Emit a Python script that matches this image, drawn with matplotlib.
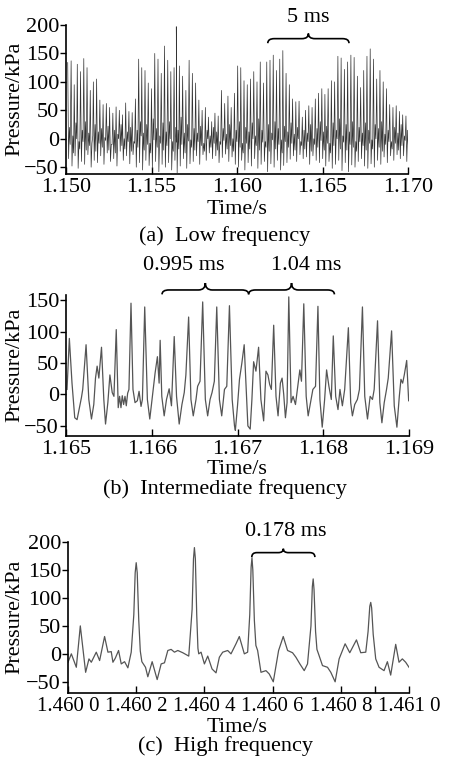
import numpy as np
import matplotlib
matplotlib.use("Agg")
import matplotlib.pyplot as plt
from matplotlib.path import Path
from matplotlib.patches import PathPatch

plt.rcParams['font.family'] = ['Liberation Serif', 'DejaVu Serif']
plt.rcParams['axes.unicode_minus'] = True

# ---------------- data: panel (a) low frequency (times in ms after 1.150 s) ----------------
a_start = 1.150
a_spike_ms = [0.10, 0.30, 0.48, 0.66, 0.85, 1.04, 1.23, 1.42, 1.60, 1.79,
              1.98, 2.17, 2.36, 2.55, 2.74, 2.93, 3.12, 3.30, 3.49, 3.68,
              3.87, 4.06, 4.25, 4.43, 4.62, 4.81, 5.00, 5.19, 5.38, 5.57,
              5.76, 5.95, 6.13, 6.32, 6.45, 6.63, 6.82, 7.01, 7.20, 7.39,
              7.58, 7.77, 7.96, 8.15, 8.33, 8.52, 8.71, 8.90, 9.09, 9.28,
              9.47, 9.66, 9.85, 10.04, 10.22, 10.41, 10.60, 10.79, 10.98, 11.17,
              11.36, 11.55, 11.74, 11.93, 12.12, 12.31, 12.50, 12.68, 12.87, 13.06,
              13.25, 13.44, 13.63, 13.82, 14.01, 14.20, 14.39, 14.58, 14.77, 14.96,
              15.14, 15.33, 15.52, 15.71, 15.90, 16.09, 16.28, 16.47, 16.66, 16.85,
              17.04, 17.23, 17.41, 17.60, 17.79, 17.98, 18.17, 18.36, 18.55, 18.74,
              18.93, 19.12, 19.31, 19.50, 19.69, 19.88]
a_peaks = [134, 137, 95, 131, 118, 141, 125, 85, 100, 105,
           68, 60, 62, 55, 45, 56, 50, 42, 63, 48,
           46, 70, 140, 125, 120, 98, 88, 150, 140, 115,
           163, 138, 118, 125, 197, 128, 110, 85, 138, 115,
           98, 68, 50, 55, 38, 30, 45, 40, 85, 62,
           75, 55, 80, 128, 125, 102, 95, 105, 118, 100,
           135, 98, 135, 138, 147, 120, 140, 155, 115, 95,
           70, 65, 66, 38, 50, 58, 55, 70, 80, 88,
           78, 88, 102, 100, 145, 142, 122, 135, 147, 143,
           110, 90, 120, 145, 158, 140, 105, 120, 100, 88,
           60, 55, 58, 48, 42, 40]
a_troughs = [-35, -48, -30, -52, -40, -45, -28, -50, -38, -42,
             -30, -45, -25, -40, -35, -48, -22, -38, -30, -44,
             -28, -50, -42, -55, -38, -47, -52, -40, -58, -45,
             -50, -42, -55, -38, -60, -48, -35, -52, -44, -40,
             -30, -45, -28, -38, -25, -35, -30, -42, -33, -27,
             -40, -32, -45, -50, -38, -55, -42, -48, -35, -52,
             -45, -40, -58, -44, -50, -38, -55, -47, -42, -36,
             -30, -40, -28, -35, -32, -45, -30, -38, -42, -35,
             -48, -40, -52, -45, -38, -56, -42, -58, -46, -50,
             -40, -35, -48, -52, -44, -50, -38, -45, -32, -42,
             -30, -38, -28, -35, -30, -40]
a_mids = [20, 5, 28, -5, 15, 30, 10, -8, 25, 12,
          18, 2, 22, -10, 15, 8, 25, 0, 12, 20,
          -5, 15, 30, 10, 25, -8, 35, 18, 5, 28,
          12, 30, -5, 20, 15, 38, 10, 25, -2, 18,
          10, 22, -8, 15, 5, 20, 12, -5, 18, 8,
          25, 0, 15, 30, -8, 20, 12, 28, 5, 35,
          15, -5, 25, 10, 30, 18, -2, 22, 12, 28,
          8, 20, -5, 15, 10, 25, 0, 18, 30, 12,
          22, -8, 28, 15, 35, 5, 25, 12, 30, -5,
          20, 10, 28, 15, -2, 25, 18, 30, 8, 15,
          -5, 20, 10, 25, 5, 15]
a_dips = [-10, -25, 0, -18, -5, -20, -12, 5, -22, -8,
          -15, -3, -20, -10, -25, 0, -12, -18, -5, -22,
          -8, -15, 5, -20, -10, -25, -2, -15, -8, -20,
          -12, 0, -22, -6, -18, -10, -25, -4, -15, -20,
          -5, -12, -22, 0, -15, -8, -20, -10, -3, -18,
          -12, -22, -5, -15, -25, -8, -18, 0, -12, -20,
          -6, -15, -22, -2, -18, -10, -25, -5, -15, -8,
          -20, 0, -12, -18, -5, -22, -10, -15, -3, -20,
          -8, -25, -12, 0, -18, -6, -20, -10, -15, -22,
          -5, -12, -20, -8, -18, 0, -15, -22, -10, -5,
          -18, -8, -20, -12, -3, -15]
a_xticks = [1.150, 1.155, 1.160, 1.165, 1.170]
a_yticks = [-50, 0, 50, 100, 150, 200]

# ---------------- data: panel (b) intermediate frequency (ms after 1.165 s) ----------------
b_start = 1.165
b_time_ms = [0.012, 0.039, 0.070, 0.102, 0.129, 0.156, 0.180, 0.195, 0.234, 0.266,
             0.297, 0.324, 0.344, 0.363, 0.383, 0.414, 0.441, 0.461, 0.488, 0.512,
             0.539, 0.559, 0.586, 0.609, 0.625, 0.641, 0.656, 0.672, 0.688, 0.703,
             0.719, 0.734, 0.758, 0.781, 0.805, 0.832, 0.852, 0.875, 0.891, 0.918,
             0.949, 0.977, 1.008, 1.039, 1.066, 1.086, 1.098, 1.117, 1.145, 1.172,
             1.203, 1.230, 1.262, 1.289, 1.320, 1.352, 1.379, 1.398, 1.430, 1.457,
             1.484, 1.516, 1.535, 1.563, 1.594, 1.625, 1.652, 1.680, 1.703, 1.730,
             1.758, 1.789, 1.816, 1.848, 1.875, 1.906, 1.938, 1.965, 1.975, 2.000,
             2.023, 2.051, 2.078, 2.102, 2.121, 2.148, 2.168, 2.188, 2.215, 2.246,
             2.273, 2.305, 2.332, 2.355, 2.375, 2.395, 2.422, 2.449, 2.473, 2.500,
             2.520, 2.539, 2.559, 2.578, 2.598, 2.625, 2.648, 2.676, 2.703, 2.727,
             2.746, 2.773, 2.801, 2.824, 2.852, 2.879, 2.910, 2.938, 2.961, 2.988,
             3.016, 3.039, 3.066, 3.094, 3.117, 3.145, 3.172, 3.195, 3.223, 3.250,
             3.293, 3.320, 3.340, 3.367, 3.398, 3.422, 3.457, 3.484, 3.516, 3.547,
             3.574, 3.594, 3.633, 3.660, 3.684, 3.711, 3.738, 3.758, 3.797, 3.828,
             3.859, 3.887, 3.906, 3.926, 3.945, 3.973, 3.996]
b_pressure = [8, 89, 18, -37, -40, -21, -5, 8, 79, -8,
              -39, -16, 26, 45, 26, 75, -8, -47, -13, 31,
              3, -3, 103, -21, -3, -21, -2, -16, -3, -18,
              2, 8, 145, 8, -13, -10, 5, -19, -8, 139,
              -8, -39, -3, 34, 60, 18, 86, -3, -34, -8,
              9, -18, 92, -3, -47, -16, 3, 31, 123, -8,
              -34, -8, 13, 21, 147, -8, -34, -8, 3, 21,
              139, -8, -34, 8, 13, 141, -8, -50, -57, -18,
              24, 50, 79, 8, -50, -55, -8, 52, 37, 75,
              -8, -42, 37, 31, 16, 8, 110, -3, -34, 18,
              26, 0, -37, -13, 155, -13, -3, -16, 13, 39,
              21, 144, -3, -34, -13, 8, 13, 140, -8, -52,
              -8, 39, 13, -8, 93, -3, -24, 8, -18, 8,
              106, -13, -34, -16, -8, 8, 139, -3, -39, -3,
              -8, 8, 117, -13, -45, -13, 8, 26, 101, -18,
              -52, -3, 24, 18, 31, 54, -10]
b_xticks = [1.165, 1.166, 1.167, 1.168, 1.169]
b_yticks = [-50, 0, 50, 100, 150]

# ---------------- data: panel (c) high frequency (ms after 1.4600 s) ----------------
c_start = 1.4600
c_time_ms = [0.0000, 0.0098, 0.0244, 0.0361, 0.0517, 0.0615, 0.0683, 0.0829, 0.0927, 0.1073,
             0.1171, 0.1268, 0.1317, 0.1385, 0.1483, 0.1561, 0.1659, 0.1756, 0.1854, 0.1930,
             0.1970, 0.2000, 0.2030, 0.2075, 0.2120, 0.2166, 0.2273, 0.2341, 0.2468, 0.2615,
             0.2732, 0.2829, 0.2927, 0.3024, 0.3122, 0.3220, 0.3366, 0.3541, 0.3640, 0.3680,
             0.3707, 0.3735, 0.3775, 0.3810, 0.3834, 0.3902, 0.4000, 0.4098, 0.4224, 0.4341,
             0.4439, 0.4537, 0.4683, 0.4780, 0.4927, 0.5024, 0.5171, 0.5268, 0.5330, 0.5370,
             0.5395, 0.5420, 0.5465, 0.5510, 0.5561, 0.5659, 0.5805, 0.5902, 0.6020, 0.6176,
             0.6312, 0.6439, 0.6585, 0.6683, 0.6800, 0.6927, 0.7024, 0.7125, 0.7165, 0.7190,
             0.7215, 0.7260, 0.7300, 0.7346, 0.7463, 0.7610, 0.7707, 0.7834, 0.7951, 0.8127,
             0.8263, 0.8459, 0.8585, 0.8732, 0.8800, 0.8850, 0.8878, 0.8905, 0.8950, 0.9024,
             0.9122, 0.9268, 0.9366, 0.9463, 0.9610, 0.9707, 0.9805, 0.9902, 1.0000]
c_pressure = [-15, 0, -24, 50, -33, -9, -15, 3, -12, 31,
              3, 4, -15, -8, 6, -18, -14, -25, 3, 70,
              145, 163, 145, 60, 5, -14, -24, -41, -14, -46,
              -18, -16, 6, 8, 3, 6, 2, -4, 80, 170,
              190, 170, 70, 10, 0, 3, -18, -4, -27, -34,
              -6, 3, 6, 0, 18, 31, 0, 3, 70, 155,
              172, 150, 60, 15, 6, -33, -30, -36, -50, 6,
              31, 6, 2, -6, -18, -30, -18, 50, 120, 134,
              115, 40, 8, 0, -21, -24, -33, -50, -9, 18,
              2, 25, 2, 3, 40, 85, 92, 82, 35, -9,
              -24, -30, -14, -38, 17, -15, -9, -15, -24]
c_xticks = [1.4600, 1.4602, 1.4604, 1.4606, 1.4608, 1.4610]
c_xticklabels = ["1.460 0", "1.460 2", "1.460 4", "1.460 6", "1.460 8", "1.461 0"]
c_yticks = [-50, 0, 50, 100, 150, 200]

# ---------------- build series ----------------
a_t, a_p = [], []
for ms, pk, tr, md, dp in zip(a_spike_ms, a_peaks, a_troughs, a_mids, a_dips):
    a_t += [ms, ms + 0.05, ms + 0.10, ms + 0.145]
    a_p += [pk, tr, md, dp]
a_t = a_start + np.array(a_t) / 1000.0
a_p = np.array(a_p)
b_t = b_start + np.array(b_time_ms) / 1000.0
b_p = np.array(b_pressure)
c_t = c_start + np.array(c_time_ms) / 1000.0
c_p = np.array(c_pressure)

# ---------------- figure ----------------
W, H = 449, 764
fig = plt.figure(figsize=(W / 100, H / 100), dpi=100)
FS = 16


def add_ax(left, right, top, bottom):
    return fig.add_axes([left / W, 1 - bottom / H, (right - left) / W, (bottom - top) / H])


def style(ax):
    for s in ("top", "right"):
        ax.spines[s].set_visible(False)
    for s in ("left", "bottom"):
        ax.spines[s].set_linewidth(1.2)
    ax.tick_params(axis="y", direction="out", length=4, width=1.0, labelsize=FS, pad=1)
    ax.tick_params(axis="x", direction="in", length=5, width=1.0, labelsize=FS, pad=3)


def brace(ax, x0, x1, y, hook, tip, wfrac=0.08):
    xm = 0.5 * (x0 + x1)
    w = (x1 - x0) * wfrac
    verts = [(x0, y - hook), (x0, y), (x0 + w, y), (xm - w, y), (xm, y), (xm, y + tip),
             (xm, y), (xm + w, y), (x1 - w, y), (x1, y), (x1, y - hook)]
    codes = [Path.MOVETO, Path.CURVE3, Path.CURVE3, Path.LINETO, Path.CURVE3, Path.CURVE3,
             Path.CURVE3, Path.CURVE3, Path.LINETO, Path.CURVE3, Path.CURVE3]
    ax.add_patch(PathPatch(Path(verts, codes), fill=False, lw=1.2, ec="black", clip_on=False))


def ftext(x, y, s, **kw):
    fig.text(x / W, 1 - y / H, s, ha="center", va="center", fontsize=FS, **kw)


# panel (a)
ax1 = add_ax(66, 408, 25, 174)
ax1.plot(a_t, a_p, color="#333333", lw=0.5)
ax1.set_xlim(1.150, 1.170)
ax1.set_ylim(-62, 200)
ax1.set_xticks(a_xticks)
ax1.set_xticklabels(["%.3f" % v for v in a_xticks])
ax1.set_yticks(a_yticks)
style(ax1)
brace(ax1, 1.16180, 1.16655, 176, 8, 9)
ax1.text(1.16418, 213, "5 ms", ha="center", va="center", fontsize=FS, clip_on=False)
ftext(15, 99, "Pressure/kPa", rotation=90)
ftext(237, 210, "Time/s")
ftext(225, 236, "(a)  Low frequency")

# panel (b)
ax2 = add_ax(66, 409, 295, 436)
ax2.plot(b_t, b_p, color="#555555", lw=0.9)
ax2.set_xlim(1.165, 1.169)
ax2.set_ylim(-66, 158)
ax2.set_xticks(b_xticks)
ax2.set_xticklabels(["%.3f" % v for v in b_xticks])
ax2.set_yticks(b_yticks)
style(ax2)
brace(ax2, 1.16612, 1.16713, 166, 7, 11)
brace(ax2, 1.16713, 1.16813, 166, 7, 11)
ax2.text(1.16637, 205, "0.995 ms", ha="center", va="center", fontsize=FS, clip_on=False)
ax2.text(1.16780, 205, "1.04 ms", ha="center", va="center", fontsize=FS, clip_on=False)
ftext(15, 365, "Pressure/kPa", rotation=90)
ftext(237, 469, "Time/s")
ftext(225, 489, "(b)  Intermediate frequency")

# panel (c)
ax3 = add_ax(68, 409, 542, 693)
ax3.plot(c_t, c_p, color="#555555", lw=0.9)
ax3.set_xlim(1.4600, 1.4610)
ax3.set_ylim(-70, 200)
ax3.set_xticks(c_xticks)
ax3.set_xticklabels(c_xticklabels)
ax3.set_xticks([1.4609], minor=True)
ax3.set_yticks(c_yticks)
style(ax3)
ax3.tick_params(axis="x", which="major", labelsize=15)
ax3.tick_params(axis="x", which="minor", direction="in", length=5, width=1.0)
brace(ax3, 1.460539, 1.460724, 181, 8, 7)
ax3.text(1.460640, 218, "0.178 ms", ha="center", va="center", fontsize=FS, clip_on=False)
ftext(15, 617, "Pressure/kPa", rotation=90)
ftext(237, 727, "Time/s")
ftext(225, 746, "(c)  High frequency")

fig.savefig("out.png", dpi=100)
